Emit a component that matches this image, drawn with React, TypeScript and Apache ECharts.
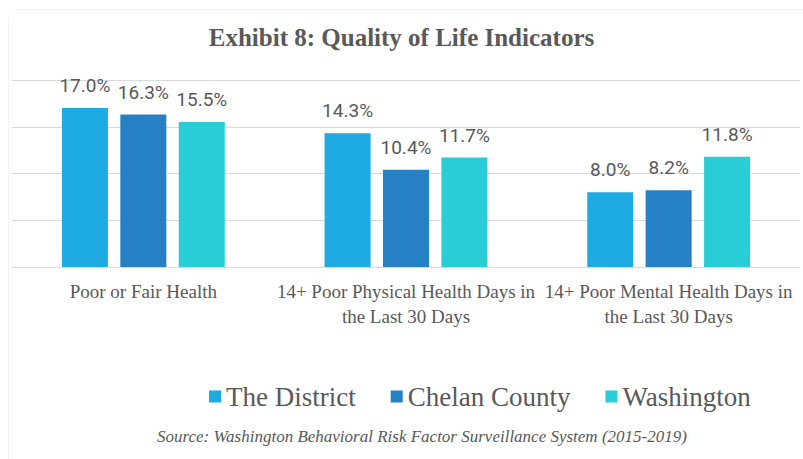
import React, { useEffect, useRef } from "react";
import * as echarts from "echarts";

const categories = [
  "Poor or Fair Health",
  "14+ Poor Physical Health Days in the Last 30 Days",
  "14+ Poor Mental Health Days in the Last 30 Days",
];
const seriesNames = ["The District", "Chelan County", "Washington"];
const districtValues = [17.0, 14.3, 8.0];
const chelanValues = [16.3, 10.4, 8.2];
const washingtonValues = [15.5, 11.7, 11.8];
const yTicks = [0, 5, 10, 15, 20];

const colors = ["#1EAAE2", "#2581C4", "#29CDD8"];
const textGray = "#595959";
const serif = "'Liberation Serif', 'Times New Roman', serif";

function wrapLabel(name: string): string {
  const idx = name.indexOf(" the Last");
  if (idx < 0) return name;
  return name.slice(0, idx) + "\n" + name.slice(idx + 1);
}

export default function App() {
  const ref = useRef<HTMLDivElement>(null);
  useEffect(() => {
    if (!ref.current) return;
    const chart = echarts.init(ref.current, undefined, { renderer: "svg" });
    const allValues = [districtValues, chelanValues, washingtonValues];
    chart.setOption({
      animation: false,
      backgroundColor: "#ffffff",
      title: {
        text: "Exhibit 8: Quality of Life Indicators",
        left: "center",
        top: 20,
        textStyle: {
          fontFamily: serif,
          fontWeight: "bold",
          fontSize: 25,
          color: textGray,
        },
      },
      legend: {
        data: seriesNames,
        bottom: 44,
        left: 204,
        icon: "rect",
        itemWidth: 12,
        itemHeight: 12,
        itemGap: 35,
        textStyle: { fontFamily: serif, fontSize: 27, color: textGray },
      },
      graphic: [
        {
          type: "text",
          left: 157,
          top: 428,
          style: {
            text: "Source: Washington Behavioral Risk Factor Surveillance System (2015-2019)",
            fontFamily: serif,
            fontStyle: "italic",
            fontSize: 17,
            fill: textGray,
          },
        },
        {
          type: "line",
          shape: { x1: 15, y1: 9.5, x2: 803, y2: 9.5 },
          style: { stroke: "#f3f3f3", lineWidth: 1 },
        },
        {
          type: "line",
          shape: { x1: 8.5, y1: 18, x2: 8.5, y2: 459 },
          style: { stroke: "#f3f3f3", lineWidth: 1 },
        },
      ],
      grid: { left: 12, right: 3, top: 80, bottom: 192, containLabel: false },
      xAxis: {
        type: "category",
        data: categories,
        axisTick: { show: false },
        axisLine: { lineStyle: { color: "#d9d9d9", width: 1 } },
        axisLabel: {
          interval: 0,
          margin: 12,
          fontFamily: serif,
          fontSize: 19,
          lineHeight: 25,
          color: textGray,
          formatter: (v: string) => wrapLabel(v),
        },
      },
      yAxis: {
        type: "value",
        min: yTicks[0],
        max: yTicks[yTicks.length - 1],
        interval: 5,
        axisLabel: { show: false },
        axisLine: { show: false },
        axisTick: { show: false },
        splitLine: { lineStyle: { color: "#d9d9d9", width: 1 } },
      },
      series: seriesNames.map((name, i) => ({
        name,
        type: "bar",
        data: allValues[i],
        barWidth: 46,
        barGap: "27%",
        itemStyle: { color: colors[i] },
        label: {
          show: true,
          position: "top",
          distance: 13,
          fontFamily: "Roboto, sans-serif",
          fontSize: 19,
          color: textGray,
          formatter: (p: any) => Number(p.value).toFixed(1) + "%",
        },
      })),
    });
    return () => chart.dispose();
  }, []);
  return (
    <div
      ref={ref}
      style={{ position: "fixed", left: 0, top: 0, width: 803, height: 459 }}
    />
  );
}
